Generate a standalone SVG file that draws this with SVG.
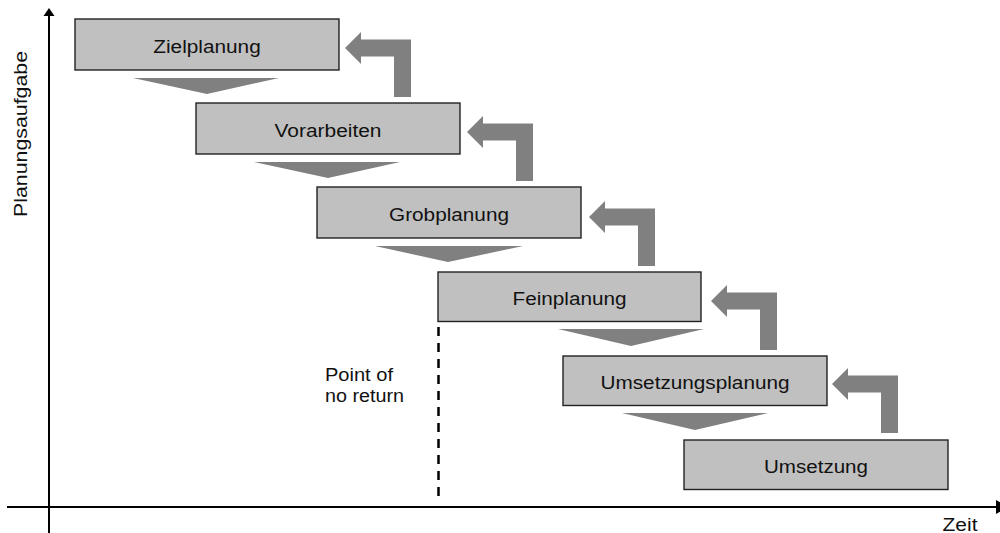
<svg xmlns="http://www.w3.org/2000/svg" width="1000" height="533" viewBox="0 0 1000 533">
  <style>
    .box { fill: #c0c0c0; stroke: #222; stroke-width: 1.4; }
    .lbl { font-family: "Liberation Sans", Arial, sans-serif; font-size: 17.5px; fill: #111; }
    .mid { text-anchor: middle; }
    .flow { fill: #808080; }
    .axis { stroke: #000; stroke-width: 2; fill: none; }
  </style>
  <defs>
    <!-- L-shaped feedback arrow, tip at origin, pointing left -->
    <path id="back" d="M0,0 L16,-16 L16,-8.5 L66,-8.5 L66,49 L49,49 L49,8.5 L16,8.5 L16,16 Z"/>
  </defs>

  <rect width="1000" height="533" fill="#fff"/>

  <!-- axes -->
  <g id="axes">
    <line class="axis" x1="49" y1="533" x2="49" y2="14"/>
    <polygon points="49,8 43.5,16 54.5,16" fill="#000"/>
    <line class="axis" x1="7" y1="507" x2="998" y2="507"/>
    <polygon points="1008,507 996,500 996,514" fill="#000"/>
    <text class="lbl" transform="translate(27,134) rotate(-90)" text-anchor="middle" textLength="166" lengthAdjust="spacingAndGlyphs">Planungsaufgabe</text>
    <text class="lbl mid" x="960" y="531" textLength="35" lengthAdjust="spacingAndGlyphs">Zeit</text>
  </g>

  <!-- phase boxes -->
  <g id="zielplanung">
    <rect class="box" x="75" y="19" width="264" height="51"/>
    <text class="lbl mid" x="207" y="52.5" textLength="107.5" lengthAdjust="spacingAndGlyphs">Zielplanung</text>
  </g>
  <g id="vorarbeiten">
    <rect class="box" x="196" y="103" width="264" height="51"/>
    <text class="lbl mid" x="328" y="136.5" textLength="107" lengthAdjust="spacingAndGlyphs">Vorarbeiten</text>
  </g>
  <g id="grobplanung">
    <rect class="box" x="317" y="187" width="264" height="51"/>
    <text class="lbl mid" x="449" y="220.5" textLength="120" lengthAdjust="spacingAndGlyphs">Grobplanung</text>
  </g>
  <g id="feinplanung">
    <rect class="box" x="438" y="272" width="263" height="49.5"/>
    <text class="lbl mid" x="569.5" y="304.5" textLength="114" lengthAdjust="spacingAndGlyphs">Feinplanung</text>
  </g>
  <g id="umsetzungsplanung">
    <rect class="box" x="563" y="356" width="264" height="49.5"/>
    <text class="lbl mid" x="695" y="388.5" textLength="189" lengthAdjust="spacingAndGlyphs">Umsetzungsplanung</text>
  </g>
  <g id="umsetzung">
    <rect class="box" x="684" y="440" width="264" height="49.5"/>
    <text class="lbl mid" x="816" y="472.5" textLength="104" lengthAdjust="spacingAndGlyphs">Umsetzung</text>
  </g>

  <!-- point of no return marker -->
  <g id="point-of-no-return">
    <line x1="438.5" y1="327" x2="438.5" y2="500" stroke="#000" stroke-width="2.5" stroke-dasharray="9 7"/>
    <text class="lbl" x="325" y="381" textLength="68" lengthAdjust="spacingAndGlyphs">Point of</text>
    <text class="lbl" x="325" y="402" textLength="79" lengthAdjust="spacingAndGlyphs">no return</text>
  </g>

  <!-- connectors: forward flow triangles and feedback arrows -->
  <g id="connectors">
    <polygon class="flow" points="133,78 279,78 207,94"/>
    <polygon class="flow" points="254,162 400,162 328,178"/>
    <polygon class="flow" points="375,246 523,246 448,262"/>
    <polygon class="flow" points="558,329 704,329 631,346"/>
    <polygon class="flow" points="622,413 768,413 695,430"/>

    <use href="#back" class="flow" transform="translate(345,48)"/>
    <use href="#back" class="flow" transform="translate(467,132)"/>
    <use href="#back" class="flow" transform="translate(589,217)"/>
    <use href="#back" class="flow" transform="translate(711,301)"/>
    <use href="#back" class="flow" transform="translate(832,384)"/>
  </g>
</svg>
